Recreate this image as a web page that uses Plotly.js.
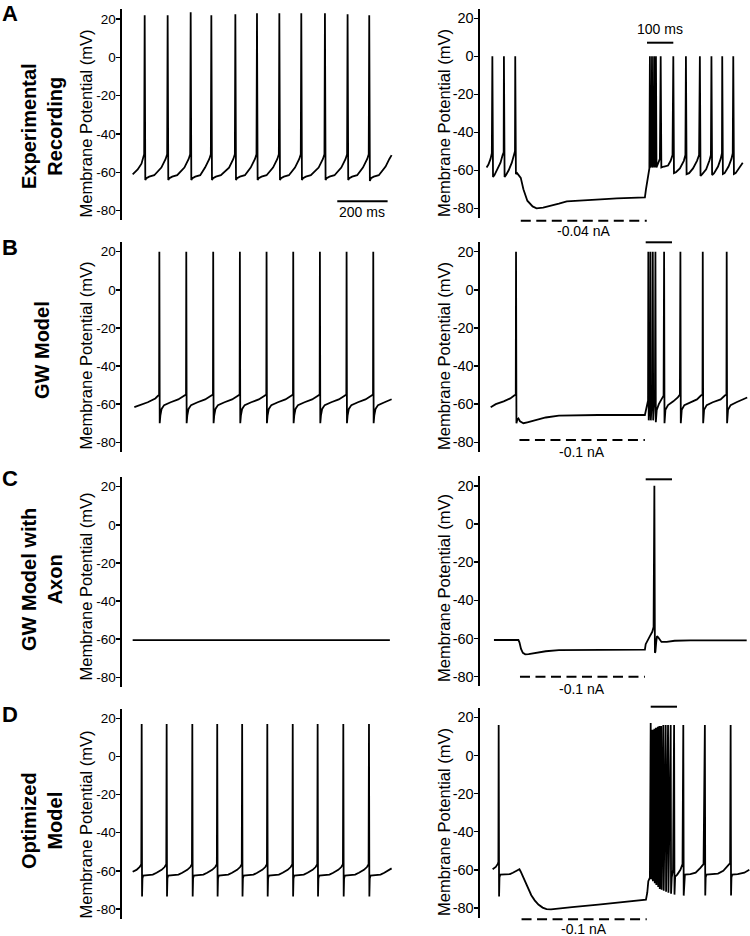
<!DOCTYPE html>
<html>
<head>
<meta charset="utf-8">
<script src="https://cdn.plot.ly/plotly-3.0.1.min.js"></script>
<style>html,body{margin:0;padding:0;background:#fff}#chart{width:750px;height:936px}</style>
</head>
<body>
<div id="chart"></div>
<script>
// ---------------- DATA (time in ms, membrane potential in mV) ----------------
const rowLetters = ['A', 'B', 'C', 'D'];
const rowLabels = ['Experimental<br>Recording', 'GW Model', 'GW Model with<br>Axon', 'Optimized<br>Model'];
const yTitle = 'Membrane Potential (mV)';
const yTickVals = [-80, -60, -40, -20, 0, 20];
const yTickText = ['-80', '-60', '-40', '-20', '0', '20'];

// A: experimental recording, spontaneous firing
const expSpont = [[0,-61],[20,-58.5],[35,-55.5],[39.7,-53],[45.7,-50.5],[47.7,22],[50.2,-64],[54.7,-63],[65.7,-62.2],[85.7,-61.5],
 [114,-57.5],[131,-53],[137,-50.5],[139,22],[141.5,-64],[146,-63],[157,-62.2],[177,-61.5],
 [205.5,-57.5],[222.5,-53],[228.5,-50.5],[230.5,23.5],[233,-64],[237.5,-63],[248.5,-62.2],[268.5,-61.5],
 [287.6,-57.5],[304.6,-53],[310.6,-50.5],[312.6,22],[315.1,-64],[319.6,-63],[330.6,-62.2],[350.6,-61.5],
 [383,-57.5],[400,-53],[406,-50.5],[408,22.5],[410.5,-64],[415,-63],[426,-62.2],[446,-61.5],
 [469,-57.5],[486,-53],[492,-50.5],[494,23],[496.5,-64],[501,-63],[512,-62.2],[532,-61.5],
 [557.8,-57.5],[574.8,-53],[580.8,-50.5],[582.8,23],[585.3,-64],[589.8,-63],[600.8,-62.2],[620.8,-61.5],
 [645,-57.5],[662,-53],[668,-50.5],[670,23],[672.5,-64],[677,-63],[688,-62.2],[708,-61.5],
 [739,-57.5],[756,-53],[762,-50.5],[764,23],[766.5,-64],[771,-63],[782,-62.2],[802,-61.5],
 [829,-57.5],[846,-53],[852,-50.5],[854,22.5],[856.5,-64],[861,-63],[872,-62.2],[892,-61.5],
 [915,-57.5],[932,-53],[938,-50.5],[940,22],[942.5,-64.5],[947,-63],[958,-62.2],[978,-61.5],
 [1005,-57],[1020,-53],[1029,-51]];
// A: experimental recording, hyperpolarizing step (-0.04 nA)
const expStep = [[25,-58.5],[32,-57],[40,-54],[45,-51],[47,0],[49.5,-63.5],[55,-62.5],[65,-60],[78,-56],[86,-52],[90,-50.5],
 [91,0],[93.5,-63.5],[99,-62.5],[109,-60],[121,-56],[129,-52],[133,-50],[134,0],[136.5,-62],[141,-61.5],[148,-62.5],
 [155,-64],[165,-70],[180,-76],[200,-79],[215,-80],[240,-79.6],[266,-78.8],[300,-77.5],[330,-76.3],[360,-76],
 [393,-75.6],[430,-75.5],[456,-75.3],[490,-75],[520,-74.8],[550,-74.6],[583,-74.4],[610,-74.5],[627,-74.3],
 [631,-70],[640,-62],[644,-59],[646,0],[648,-58.5],[652,-56],[654,0],[656,-58.5],[660,-56],[662,0],[664,-58.5],
 [667,-56],[669,0],[671,-58.5],[676,-57],[684,-54],[687,0],[689.5,-58.5],[700,-58],[715,-57.5],[725,-55],[732,-52],
 [735,0],[737.5,-61.5],[745,-61],[760,-59],[775,-55],[781,-52],[783,0],[785.5,-62],[795,-61.5],[810,-59],[825,-55],
 [833,-52],[836,0],[838.5,-63],[845,-62],[860,-59.5],[872,-55],[878,-52],[880,0],[882.5,-62.5],[890,-61.5],[905,-58],
 [915,-54],[920,-51],[921,0],[923.5,-62],[930,-61.5],[945,-58],[956,-54],[961,-51],[963,0],[965.5,-62],[972,-61.5],
 [985,-59],[999,-56]];
// B: GW model
const gwSpont = [[6.6,-61.6],[30,-60.5],[60,-59],[90,-57],[105,-55],[106,20],[107.5,-70],[110,-66],[115,-62.5],[125,-60.5],
 [151,-59],[181,-57.5],[201,-55.8],[212,-55],[213,20],[214.5,-70],[217,-66],[222,-62.5],[232,-60.5],
 [258,-59],[288,-57.5],[308,-55.8],[319,-55],[320,20],[321.5,-70],[324,-66],[329,-62.5],[339,-60.5],
 [365,-59],[395,-57.5],[415,-55.8],[425,-55],[426,20],[427.5,-70],[430,-66],[435,-62.5],[445,-60.5],
 [471,-59],[501,-57.5],[521,-55.8],[531,-55],[532,20],[533.5,-70],[536,-66],[541,-62.5],[551,-60.5],
 [577,-59],[607,-57.5],[627,-55.8],[637,-55],[638,20],[639.5,-70],[642,-66],[647,-62.5],[657,-60.5],
 [683,-59],[713,-57.5],[733,-55.8],[743,-55],[744,20],[745.5,-70],[748,-66],[753,-62.5],[763,-60.5],
 [789,-59],[819,-57.5],[839,-55.8],[849,-55],[850,20],[851.5,-70],[854,-66],[859,-62.5],[869,-60.5],
 [895,-59],[925,-57.5],[945,-55.8],[955,-55],[956,20],[957.5,-70],[960,-66],[965,-62.5],[975,-60.5],
 [1001,-59],[1029,-57.4]];
const gwStep = [[40.6,-61.6],[60,-60],[90,-58.5],[115,-57],[130,-55.5],[136,-55],[137,20],[138.5,-70],[142,-68],[146,-67.5],
 [152,-69],[165,-70],[180,-69.5],[210,-68.5],[250,-67],[300,-66],[350,-65.8],[450,-65.7],[627,-65.7],[631,-63.5],
 [636,-60],[639,-58],[640,20],[641.5,-68.5],[644,-62],[647,-59],[648,20],[649.5,-68.5],[652,-62],[656,-58.5],
 [657,20],[658.5,-68.5],[661,-62],[665,-57.5],[667,20],[668.5,-69.5],[672,-63],[680,-60],[690,-57.5],[698,-55.5],
 [700,20],[701.5,-70],[705,-63],[715,-60.5],[735,-58.5],[752,-56.5],[760,-55],[762,20],[763.5,-70],[767,-63],
 [777,-60.5],[800,-59],[825,-57.5],[840,-55.5],[846,-55],[847,20],[848.5,-70],[852,-63],[862,-60.5],[885,-59],
 [915,-57.5],[931,-55.5],[937,-55],[938,20],[939.5,-70],[943,-63],[953,-60.5],[975,-59],[1000,-57.5],[1016,-56.5]];
// C: GW model with axon
const axonSpont = [[0,-60.5],[1022,-60.5]];
const axonStep = [[53,-60.8],[146,-60.8],[150,-62],[156,-65.5],[163,-67.5],[172,-68.3],[185,-68.2],[210,-67.5],[250,-66.7],
 [300,-66.1],[400,-65.9],[627,-65.8],[630,-63],[635,-61.5],[645,-59],[655,-56.5],[660,-54],[663,20],[665,-67.5],
 [667,-67],[670,-62],[673,-58.7],[678,-59.5],[690,-61.8],[710,-61.8],[740,-61.2],[800,-61],[1014,-61]];
// D: optimized model
const optSpont = [[0,-60.5],[15,-59.5],[28,-58],[34.3,-56.5],[35.8,17],[37.3,-73.5],[38.8,-64],[41.8,-62.5],[60.8,-62.3],[80,-62],
 [95,-61],[115,-59.5],[127,-58],[133.5,-56.5],[135,17],[136.5,-73.5],[138,-64],[141,-62.5],[160,-62.3],[182,-62],
 [197,-61],[217,-59.5],[229,-58],[235.5,-56.5],[237,17],[238.5,-73.5],[240,-64],[243,-62.5],[262,-62.3],[281,-62],
 [296,-61],[316,-59.5],[328,-58],[334.5,-56.5],[336,17],[337.5,-73.5],[339,-64],[342,-62.5],[361,-62.3],[380,-62],
 [395,-61],[415,-59.5],[427,-58],[433.5,-56.5],[435,17],[436.5,-73.5],[438,-64],[441,-62.5],[460,-62.3],[480,-62],
 [495,-61],[515,-59.5],[527,-58],[533.5,-56.5],[535,17],[536.5,-73.5],[538,-64],[541,-62.5],[560,-62.3],[581,-62],
 [596,-61],[616,-59.5],[628,-58],[634.5,-56.5],[636,17],[637.5,-73.5],[639,-64],[642,-62.5],[661,-62.3],[680,-62],
 [695,-61],[715,-59.5],[727,-58],[733.5,-56.5],[735,17],[736.5,-73.5],[738,-64],[741,-62.5],[760,-62.3],[782,-62],
 [797,-61],[817,-59.5],[829,-58],[835.5,-56.5],[837,17],[838.5,-73.5],[840,-64],[843,-62.5],[862,-62.3],[884,-62],
 [899,-61],[919,-59.5],[931,-58],[937.5,-56.5],[939,17],[940.5,-73.5],[942,-64],[945,-62.5],[964,-62.3],[985,-62],
 [1000,-61],[1020,-59.5],[1029,-58.7]];
const optStep = [[48,-59.7],[60,-58.5],[67,-57],[70,-56],[71,16],[72.5,-74],[74,-64],[77,-62.5],[90,-62.3],[114,-62.2],
 [125,-61.5],[140,-60.5],[150,-59.7],[155,-61],[163,-63.5],[172,-66.5],[183,-70],[195,-73.3],[208,-76],[222,-78.2],
 [238,-79.8],[253,-80.6],[270,-80.7],[300,-80.4],[350,-79.6],[450,-78.2],[550,-76.8],[631,-75.7],[636,-72],[640,-66],
 [646,-64],[649,17],
 [650.5,-65],[656,13.5],[657.5,-66],[663,14],[664.5,-67],[669,14.5],[670.5,-68],[676,15],[677.5,-69],[682,15.5],
 [683.5,-70],[689,15.5],[690.5,-70.5],[697,16],[698.5,-71],[706,16],[707.5,-71.5],[715,16],[716.5,-72],[725,16],
 [726.5,-72.5],[729,-64],[734,-60],[738,16],[739.5,-73],[742,-63.5],[750,-62.5],[762,-60],[770,-57],[773,16],
 [774.5,-73.5],[776,-64],[779,-62.5],[800,-62.3],[820,-61.5],[838,-59],[850,-57],[855,16],[856.5,-73.5],[858,-64],
 [861,-62.5],[880,-62.3],[905,-62],[925,-60.5],[942,-58],[951,-56.5],[953,16],[954.5,-73.5],[956,-64],[959,-62.5],
 [980,-62.3],[1005,-61.5],[1024,-60]];

// current steps (start, end in ms) and labels, one per row (right column)
const stepStart = [155, 150, 152, 158];
const stepEnd = [634, 627, 627, 634];
const stepLabels = ['-0.04 nA', '-0.1 nA', '-0.1 nA', '-0.1 nA'];
// time scale bars
const leftBarStart = 813, leftBarLen = 200, leftBarLabel = '200 ms';
const rightBarStart = [635, 630, 630, 649], rightBarLen = 100, rightBarLabel = '100 ms';

// ---------------- LAYOUT HELPERS (pixel geometry) ----------------
const W = 750, H = 936;
const px = v => v / W;
const py = v => 1 - v / H;
const leftDom = [px(122), px(394)], rightDom = [px(480), px(750)];
const leftRange = [-42.4, 1038.4], rightRange = [0, 1026.6];
const yRange = [-85, 25];
// [top, bottom] pixel of each y axis, left & right
const rowPx = [[[9.4, 220.3], [8.8, 217.8]], [[242.2, 451.8], [242.2, 451.8]],
               [[477.2, 686.8], [476.2, 686.2]], [[708.8, 918.5], [707.8, 917.5]]];
const titleY = [[124, 123], [356, 356], [587, 588], [825, 822]];
const labelY = [126, 350, 580, 821];
const letterY = [14, 248, 479, 714];
const stepY = [220.7, 440, 676.7, 919.3];
const stepTextY = [231, 452, 689, 928.5];
const barY = [42.7, 242.3, 479.3, 706.7];

const series = [[expSpont, expStep], [gwSpont, gwStep], [axonSpont, axonStep], [optSpont, optStep]];
const FONT = 'Arial, "Liberation Sans", sans-serif';

const data = [], layout = {
  width: W, height: H, margin: {l: 0, r: 0, t: 0, b: 0},
  paper_bgcolor: '#fff', plot_bgcolor: 'rgba(0,0,0,0)', showlegend: false,
  font: {family: FONT, color: '#000'}, annotations: [], shapes: []
};

for (let r = 0; r < 4; r++) {
  for (let c = 0; c < 2; c++) {
    const n = r * 2 + c + 1;
    const xa = 'xaxis' + n, ya = 'yaxis' + n;
    const s = series[r][c];
    data.push({
      type: 'scatter', mode: 'lines', xaxis: 'x' + n, yaxis: 'y' + n,
      x: s.map(p => p[0]), y: s.map(p => p[1]),
      line: {color: '#000', width: 1.8}, hoverinfo: 'skip'
    });
    layout[xa] = {domain: c ? rightDom : leftDom, range: c ? rightRange : leftRange,
                  visible: false, anchor: 'y' + n, fixedrange: true};
    const [t, b] = rowPx[r][c];
    layout[ya] = {domain: [py(b), py(t)], range: yRange, anchor: 'x' + n,
      showline: true, linecolor: '#000', linewidth: 2.5, showgrid: false, zeroline: false,
      ticks: 'outside', ticklen: 4, tickwidth: 1.5, tickcolor: '#000', ticklabelstandoff: -3,
      tickvals: yTickVals, ticktext: yTickText,
      tickfont: {size: c ? 14.5 : 13.5, family: FONT, color: '#000'}, fixedrange: true};
    layout.annotations.push({text: yTitle, textangle: -90, xref: 'paper', yref: 'paper',
      x: px(c ? 444 : 85.5), y: py(titleY[r][c]), xanchor: 'center', yanchor: 'middle',
      showarrow: false, font: {size: 16.5, family: FONT, color: '#000'}});
  }
  layout.annotations.push({text: '<b>' + rowLetters[r] + '</b>', xref: 'paper', yref: 'paper',
    x: px(10), y: py(letterY[r]), xanchor: 'center', yanchor: 'middle', showarrow: false,
    font: {size: 22, family: FONT, color: '#000'}});
  layout.annotations.push({text: '<b>' + rowLabels[r] + '</b>', textangle: -90, xref: 'paper', yref: 'paper',
    x: px(42), y: py(labelY[r]), xanchor: 'center', yanchor: 'middle', showarrow: false,
    font: {size: 20, family: FONT, color: '#000'}});
  const xr = 'x' + (r * 2 + 2);
  // current step bar
  layout.shapes.push({type: 'line', xref: xr, yref: 'paper', x0: stepStart[r], x1: stepEnd[r],
    y0: py(stepY[r]), y1: py(stepY[r]), line: {color: '#000', width: 2, dash: '10px,5.5px'}});
  layout.annotations.push({text: stepLabels[r], xref: xr, yref: 'paper',
    x: (stepStart[r] + stepEnd[r]) / 2, y: py(stepTextY[r]), xanchor: 'center', yanchor: 'middle',
    showarrow: false, font: {size: 14, family: FONT, color: '#000'}});
  // 100 ms scale bar
  layout.shapes.push({type: 'line', xref: xr, yref: 'paper', x0: rightBarStart[r], x1: rightBarStart[r] + rightBarLen,
    y0: py(barY[r]), y1: py(barY[r]), line: {color: '#000', width: 2}});
}
layout.annotations.push({text: rightBarLabel, xref: 'x2', yref: 'paper',
  x: rightBarStart[0] + rightBarLen / 2, y: py(28.5), xanchor: 'center', yanchor: 'middle',
  showarrow: false, font: {size: 14, family: FONT, color: '#000'}});
// 200 ms scale bar (A, left)
layout.shapes.push({type: 'line', xref: 'x1', yref: 'paper', x0: leftBarStart, x1: leftBarStart + leftBarLen,
  y0: py(201.3), y1: py(201.3), line: {color: '#000', width: 2}});
layout.annotations.push({text: leftBarLabel, xref: 'x1', yref: 'paper',
  x: leftBarStart + leftBarLen / 2, y: py(212.5), xanchor: 'center', yanchor: 'middle',
  showarrow: false, font: {size: 14, family: FONT, color: '#000'}});

Plotly.newPlot('chart', data, layout, {staticPlot: true, displayModeBar: false});
</script>
</body>
</html>
